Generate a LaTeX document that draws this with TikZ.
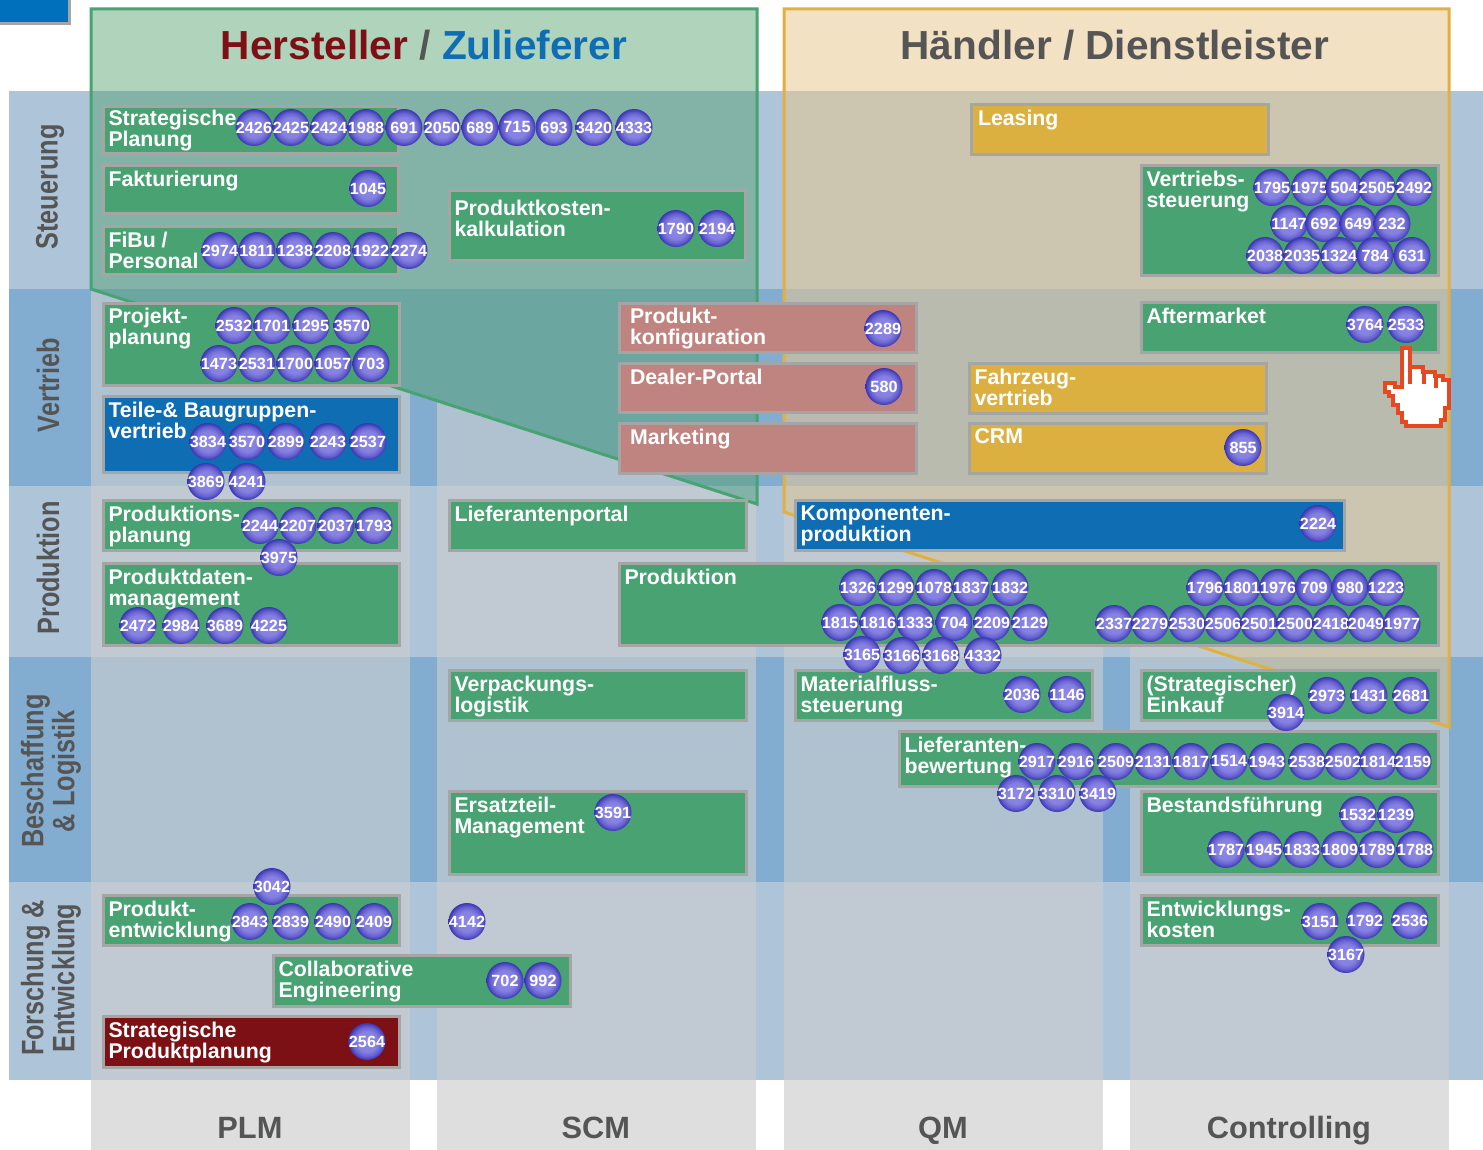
\documentclass[tikz,border=0pt]{standalone}
\usepackage{fontspec}
\setmainfont{Liberation Sans}
\usepackage{tikz}

\definecolor{rowlight}{HTML}{AEC4D9}
\definecolor{rowdark}{HTML}{82ADD0}
\definecolor{colgray}{HTML}{CFCFCF}
\definecolor{footgray}{HTML}{DEDEDE}
\definecolor{textgray}{HTML}{555555}
\definecolor{framegray}{HTML}{A5A5A5}
\definecolor{boxgreen}{HTML}{48A272}
\definecolor{boxblue}{HTML}{0F6DB4}
\definecolor{boxyellow}{HTML}{DCB040}
\definecolor{boxrose}{HTML}{BF8480}
\definecolor{boxred}{HTML}{7D1014}
\definecolor{cornerblue}{HTML}{0070BC}
\definecolor{hstgreen}{HTML}{47A372}
\definecolor{hstyellow}{HTML}{E0B040}
\definecolor{handred}{HTML}{E84820}

\pgfdeclareradialshading{bubbleshade}{\pgfpoint{0bp}{0bp}}{rgb(0bp)=(.56,.54,.91); rgb(14bp)=(.52,.50,.88); rgb(20bp)=(.40,.38,.81); rgb(24bp)=(.26,.24,.73); rgb(26bp)=(.20,.20,.66); rgb(50bp)=(.20,.20,.66)}

\tikzset{
	bsize/.style 2 args={minimum width=(#1-2)*0.5pt, minimum height=(#2-2)*0.5pt},
	area/.style={draw=framegray, line width=1.5pt, inner sep=0pt, anchor=north west},
	greenbox/.style={area, fill=boxgreen},
	bluebox/.style={area, fill=boxblue},
	yellowbox/.style={area, fill=boxyellow},
	rosebox/.style={area, fill=boxrose},
	redbox/.style={area, fill=boxred},
	boxtext/.style={anchor=north west, align=left, inner sep=0pt, outer sep=0pt, xshift=3.25pt, yshift=-3.5pt, text=white, font=\fontsize{10.65}{10.5}\selectfont\bfseries},
	bub/.style={circle, minimum size=18.5pt, inner sep=-3pt, yshift=-0.25pt, shading=bubbleshade, text=white, font=\fontsize{8.1}{8.1}\selectfont\bfseries},
	rowtext/.style={rotate=90, xscale=.815, align=center, text=textgray, font=\fontsize{15.5}{15.5}\selectfont\bfseries},
	headtext/.style={text=textgray, font=\fontsize{20.3}{20.3}\selectfont\bfseries},
	colfoot/.style={fill=footgray, inner sep=0pt, anchor=north west, minimum width=159.5pt, minimum height=35pt},
	coltext/.style={anchor=center, yshift=-6pt, xshift=-0.5pt, text height=11pt, text depth=0pt, text=textgray, font=\fontsize{15.4}{15.4}\selectfont\bfseries}
}

\newcommand{\rowbands}{
	\fill[rowlight] (9,91) rectangle (1483,289);
	\fill[rowdark] (9,289) rectangle (1483,486);
	\fill[rowlight] (9,486) rectangle (1483,657);
	\fill[rowdark] (9,657) rectangle (1483,882);
	\fill[rowlight] (9,882) rectangle (1483,1080);
}

\begin{document}
\begin{tikzpicture}[x=0.5pt,y=-0.5pt]
	\useasboundingbox (0,0) rectangle (1483,1150);

	\rowbands
	\fill[colgray, opacity=.6] (91,91) rectangle (410,1080);
	\fill[colgray, opacity=.6] (437,91) rectangle (756,1080);
	\fill[colgray, opacity=.6] (784,91) rectangle (1103,1080);
	\fill[colgray, opacity=.6] (1130,91) rectangle (1449,1080);

	\node[colfoot, label={[coltext]center:PLM}] (plm) at (91,1080) {};
	\node[colfoot, label={[coltext]center:SCM}] (scm) at (437,1080) {};
	\node[colfoot, label={[coltext]center:QM}] (qm) at (784,1080) {};
	\node[colfoot, label={[coltext]center:Controlling}] (ctrl) at (1130,1080) {};

	% the two big areas
	\coordinate (hstA) at (91,9);
	\coordinate (hstB) at (757,9);
	\coordinate (hstC) at (757,504);
	\coordinate (hstD) at (91,289);
	\coordinate (hdlA) at (784,9);
	\coordinate (hdlB) at (1449,9);
	\coordinate (hdlC) at (1449,727);
	\coordinate (hdlD) at (784,512);

	\begin{scope}
		\clip (hstA) -- (hstB) -- (hstC) -- (hstD) -- cycle;
		\fill[white] (91,9) rectangle (757,91);
		\rowbands
	\end{scope}
	\begin{scope}
		\clip (hdlA) -- (hdlB) -- (hdlC) -- (hdlD) -- cycle;
		\fill[white] (784,9) rectangle (1449,91);
		\rowbands
	\end{scope}
	\fill[fill={rgb,255:red,80;green,158;blue,105}, opacity=.45] (hstA) -- (hstB) -- (hstC) -- (hstD) -- cycle;
	\draw[hstgreen, line width=1.5pt] (hstA) -- (hstB) -- (hstC) -- (hstD) -- cycle;
	\fill[fill={rgb,255:red,232;green,200;blue,142}, opacity=.53] (hdlA) -- (hdlB) -- (hdlC) -- (hdlD) -- cycle;
	\draw[hstyellow, line width=1.5pt] (hdlA) -- (hdlB) -- (hdlC) -- (hdlD) -- cycle;

	\node[area, fill=cornerblue, bsize={74}{28}, anchor=south east] (corner) at (71,25) {};

	\node[headtext] (hstHead) at (424,45) {\textcolor{boxred}{Hersteller} / \textcolor{boxblue}{Zulieferer}};
	\node[headtext] (hdlHead) at (1115,45) {Händler / Dienstleister};

	\node[rowtext] (rowSt) at (50,187) {Steuerung};
	\node[rowtext] (rowVe) at (48,385) {Vertrieb};
	\node[rowtext] (rowPr) at (48,568) {Produktion};
	\node[rowtext] (rowBe) at (51,771) {Beschaffung\\\& Logistik};
	\node[rowtext] (rowFo) at (51,978) {Forschung \&\\Entwicklung};

	% boxes
	\node[greenbox, bsize={297}{49}, label={[boxtext, yshift=1pt]north west:Strategische\\Planung}] (stratPlan) at (102,105) {};
	\node[greenbox, bsize={297}{50}, label={[boxtext]north west:Fakturierung}] (faktur) at (102,164) {};
	\node[greenbox, bsize={297}{50}, label={[boxtext]north west:FiBu /\\Personal}] (fibu) at (102,225) {};
	\node[greenbox, bsize={298}{72}, label={[boxtext, yshift=-2pt]north west:Produktkosten-\\kalkulation}] (kosten) at (448,189) {};
	\node[yellowbox, bsize={299}{52}, label={[boxtext, xshift=.75pt]north west:Leasing}] (leasing) at (970,103) {};
	\node[greenbox, bsize={299}{112}, label={[boxtext]north west:Vertriebs-\\steuerung}] (vertrSt) at (1140,164) {};
	\node[greenbox, bsize={298}{84}, label={[boxtext, yshift=.5pt]north west:Projekt-\\planung}] (projekt) at (102,302) {};
	\node[bluebox, bsize={298}{78}, label={[boxtext]north west:Teile-\& Baugruppen-\\vertrieb}] (teile) at (102,395) {};
	\node[rosebox, bsize={299}{51}, label={[boxtext, xshift=2.75pt, yshift=.5pt]north west:Produkt-\\konfiguration}] (konfig) at (618,302) {};
	\node[rosebox, bsize={299}{51}, label={[boxtext, xshift=2.75pt]north west:Dealer-Portal}] (dealer) at (618,362) {};
	\node[rosebox, bsize={299}{52}, label={[boxtext, xshift=2.75pt]north west:Marketing}] (marketing) at (618,422) {};
	\node[greenbox, bsize={299}{52}, label={[boxtext]north west:Aftermarket}] (after) at (1140,301) {};
	\node[yellowbox, bsize={299}{52}, label={[boxtext]north west:Fahrzeug-\\vertrieb}] (fahrzeug) at (968,362) {};
	\node[yellowbox, bsize={299}{52}, label={[boxtext]north west:CRM}] (crm) at (968,422) {};
	\node[greenbox, bsize={298}{52}, label={[boxtext]north west:Produktions-\\planung}] (prodPlan) at (102,499) {};
	\node[greenbox, bsize={299}{52}, label={[boxtext]north west:Lieferantenportal}] (portal) at (448,499) {};
	\node[bluebox, bsize={551}{52}, label={[boxtext]north west:Komponenten-\\produktion}] (kompon) at (794,499) {};
	\node[greenbox, bsize={298}{84}, label={[boxtext]north west:Produktdaten-\\management}] (prodDaten) at (102,562) {};
	\node[greenbox, bsize={821}{84}, label={[boxtext]north west:Produktion}] (produktion) at (618,562) {};
	\node[greenbox, bsize={299}{52}, label={[boxtext]north west:Verpackungs-\\logistik}] (verpack) at (448,669) {};
	\node[greenbox, bsize={299}{52}, label={[boxtext]north west:Materialfluss-\\steuerung}] (material) at (794,669) {};
	\node[greenbox, bsize={299}{52}, label={[boxtext]north west:(Strategischer)\\Einkauf}] (einkauf) at (1140,669) {};
	\node[greenbox, bsize={541}{57}, label={[boxtext]north west:Lieferanten-\\bewertung}] (liefBew) at (898,730) {};
	\node[greenbox, bsize={299}{85}, label={[boxtext]north west:Ersatzteil-\\Management}] (ersatz) at (448,790) {};
	\node[greenbox, bsize={299}{85}, label={[boxtext]north west:Bestandsführung}] (bestand) at (1140,790) {};
	\node[greenbox, bsize={298}{52}, label={[boxtext]north west:Produkt-\\entwicklung}] (prodEntw) at (102,894) {};
	\node[greenbox, bsize={299}{52}, label={[boxtext]north west:Entwicklungs-\\kosten}] (entwKost) at (1140,894) {};
	\node[greenbox, bsize={299}{53}, label={[boxtext]north west:Collaborative\\Engineering}] (collab) at (272,954) {};
	\node[redbox, bsize={298}{53}, label={[boxtext]north west:Strategische\\Produktplanung}] (stratProd) at (102,1015) {};

	% Strategische Planung
	\node[bub] (b2426) at (254,127) {2426};
	\node[bub] (b2425) at (291,127) {2425};
	\node[bub] (b2424) at (329,127) {2424};
	\node[bub] (b1988) at (366,127) {1988};
	\node[bub] (b691) at (404,127) {691};
	\node[bub] (b2050) at (442,127) {2050};
	\node[bub] (b689) at (480,127) {689};
	\node[bub] (b715) at (517,127) {715};
	\node[bub] (b693) at (554,127) {693};
	\node[bub] (b3420) at (594,127) {3420};
	\node[bub] (b4333) at (634,127) {4333};

	\node[bub] (b1045) at (368,188) {1045};

	% FiBu
	\node[bub] (b2974) at (220,250) {2974};
	\node[bub] (b1811) at (257,250) {1811};
	\node[bub] (b1238) at (295,250) {1238};
	\node[bub] (b2208) at (333,250) {2208};
	\node[bub] (b1922) at (371,250) {1922};
	\node[bub] (b2274) at (409,250) {2274};

	\node[bub] (b1790) at (676,228) {1790};
	\node[bub] (b2194) at (717,228) {2194};

	% Projektplanung
	\node[bub] (b2532) at (234,325) {2532};
	\node[bub] (b1701) at (272,325) {1701};
	\node[bub] (b1295) at (311,325) {1295};
	\node[bub] (b3570) at (352,325) {3570};
	\node[bub] (b1473) at (219,363) {1473};
	\node[bub] (b2531) at (257,363) {2531};
	\node[bub] (b1700) at (295,363) {1700};
	\node[bub] (b1057) at (333,363) {1057};
	\node[bub] (b703) at (371,363) {703};

	% Teile
	\node[bub] (b3834) at (208,441) {3834};
	\node[bub] (b3570t) at (247,441) {3570};
	\node[bub] (b2899) at (286,441) {2899};
	\node[bub] (b2243) at (328,441) {2243};
	\node[bub] (b2537) at (368,441) {2537};
	\node[bub] (b3869) at (206,481) {3869};
	\node[bub] (b4241) at (247,481) {4241};

	% Produktionsplanung
	\node[bub] (b2244) at (260,525) {2244};
	\node[bub] (b2207) at (298,525) {2207};
	\node[bub] (b2037) at (336,525) {2037};
	\node[bub] (b1793) at (374,525) {1793};
	\node[bub] (b3975) at (279,557) {3975};

	\node[bub] (b2472) at (138,625) {2472};
	\node[bub] (b2984) at (181,625) {2984};
	\node[bub] (b3689) at (225,625) {3689};
	\node[bub] (b4225) at (269,625) {4225};

	\node[bub] (b2289) at (883,328) {2289};
	\node[bub] (b580) at (884,386) {580};
	\node[bub] (b855) at (1243,447) {855};

	% Vertriebssteuerung
	\node[bub] (b1795) at (1272,187) {1795};
	\node[bub] (b1975) at (1310,187) {1975};
	\node[bub] (b504) at (1344,187) {504};
	\node[bub] (b2505) at (1377,187) {2505};
	\node[bub] (b2492) at (1414,187) {2492};
	\node[bub] (b1147) at (1289,223) {1147};
	\node[bub] (b692) at (1324,223) {692};
	\node[bub] (b649) at (1358,223) {649};
	\node[bub] (b232) at (1392,223) {232};
	\node[bub] (b2038) at (1265,255) {2038};
	\node[bub] (b2035) at (1302,255) {2035};
	\node[bub] (b1324) at (1339,255) {1324};
	\node[bub] (b784) at (1375,255) {784};
	\node[bub] (b631) at (1412,255) {631};

	\node[bub] (b3764) at (1365,324) {3764};
	\node[bub] (b2533) at (1406,324) {2533};
	\node[bub] (b2224) at (1318,523) {2224};

	% Produktion
	\node[bub] (b1326) at (858,587) {1326};
	\node[bub] (b1299) at (896,587) {1299};
	\node[bub] (b1078) at (934,587) {1078};
	\node[bub] (b1837) at (971,587) {1837};
	\node[bub] (b1832) at (1010,587) {1832};
	\node[bub] (b1815) at (840,622) {1815};
	\node[bub] (b1816) at (878,622) {1816};
	\node[bub] (b1333) at (915,622) {1333};
	\node[bub] (b704) at (954,622) {704};
	\node[bub] (b2209) at (992,622) {2209};
	\node[bub] (b2129) at (1030,622) {2129};
	\node[bub] (b3165) at (862,654) {3165};
	\node[bub] (b3166) at (902,655) {3166};
	\node[bub] (b3168) at (941,655) {3168};
	\node[bub] (b4332) at (983,655) {4332};
	\node[bub] (b1796) at (1205,587) {1796};
	\node[bub] (b1801) at (1242,587) {1801};
	\node[bub] (b1976) at (1278,587) {1976};
	\node[bub] (b709) at (1314,587) {709};
	\node[bub] (b980) at (1350,587) {980};
	\node[bub] (b1223) at (1386,587) {1223};
	\node[bub] (b2337) at (1114,623) {2337};
	\node[bub] (b2279) at (1150,623) {2279};
	\node[bub] (b2530) at (1187,623) {2530};
	\node[bub] (b2506) at (1223,623) {2506};
	\node[bub] (b2501) at (1259,623) {2501};
	\node[bub] (b2500) at (1295,623) {2500};
	\node[bub] (b2418) at (1331,623) {2418};
	\node[bub] (b2049) at (1366,623) {2049};
	\node[bub] (b1977) at (1402,623) {1977};

	\node[bub] (b2036) at (1022,694) {2036};
	\node[bub] (b1146) at (1067,694) {1146};

	\node[bub] (b3914) at (1286,712) {3914};
	\node[bub] (b2973) at (1327,695) {2973};
	\node[bub] (b1431) at (1369,695) {1431};
	\node[bub] (b2681) at (1411,695) {2681};

	% Lieferantenbewertung
	\node[bub] (b2917) at (1037,761) {2917};
	\node[bub] (b2916) at (1076,761) {2916};
	\node[bub] (b2509) at (1116,761) {2509};
	\node[bub] (b2131) at (1153,761) {2131};
	\node[bub] (b1817) at (1191,761) {1817};
	\node[bub] (b1514) at (1229,761) {1514};
	\node[bub] (b1943) at (1267,761) {1943};
	\node[bub] (b2538) at (1307,761) {2538};
	\node[bub] (b2502) at (1343,761) {2502};
	\node[bub] (b1814) at (1378,761) {1814};
	\node[bub] (b2159) at (1413,761) {2159};
	\node[bub] (b3172) at (1016,793) {3172};
	\node[bub] (b3310) at (1057,793) {3310};
	\node[bub] (b3419) at (1098,793) {3419};

	% Bestandsfuehrung
	\node[bub] (b1532) at (1358,814) {1532};
	\node[bub] (b1239) at (1396,814) {1239};
	\node[bub] (b1787) at (1226,849) {1787};
	\node[bub] (b1945) at (1264,849) {1945};
	\node[bub] (b1833) at (1302,849) {1833};
	\node[bub] (b1809) at (1340,849) {1809};
	\node[bub] (b1789) at (1377,849) {1789};
	\node[bub] (b1788) at (1415,849) {1788};

	\node[bub] (b3591) at (613,812) {3591};

	% Produktentwicklung
	\node[bub] (b3042) at (272,886) {3042};
	\node[bub] (b2843) at (250,921) {2843};
	\node[bub] (b2839) at (291,921) {2839};
	\node[bub] (b2490) at (333,921) {2490};
	\node[bub] (b2409) at (374,921) {2409};

	\node[bub] (b4142) at (467,921) {4142};
	\node[bub] (b702) at (505,980) {702};
	\node[bub] (b992) at (543,980) {992};
	\node[bub] (b2564) at (367,1041) {2564};

	\node[bub] (b3151) at (1320,921) {3151};
	\node[bub] (b1792) at (1365,920) {1792};
	\node[bub] (b2536) at (1410,920) {2536};
	\node[bub] (b3167) at (1346,954) {3167};

	% hand cursor
	\draw[handred, line width=1.7pt, fill=white] (1402,348) -- (1410,348) -- (1410,367) -- (1423,367) -- (1423,372) -- (1435,372) -- (1435,376) -- (1443,376) -- (1443,380) -- (1449,380) -- (1449,408) -- (1445,408) -- (1445,420) -- (1441,420) -- (1441,426) -- (1406,426) -- (1406,422) -- (1402,422) -- (1402,413) -- (1398,413) -- (1398,405) -- (1393,405) -- (1393,396) -- (1389,396) -- (1389,392) -- (1385,392) -- (1385,383) -- (1395,383) -- (1395,387) -- (1402,387) -- cycle;
	\draw[handred, line width=1.7pt] (1410,367) -- (1410,384);
	\draw[handred, line width=1.7pt] (1424,372) -- (1424,384);
	\draw[handred, line width=1.7pt] (1436,376) -- (1436,388);
\end{tikzpicture}
\end{document}
